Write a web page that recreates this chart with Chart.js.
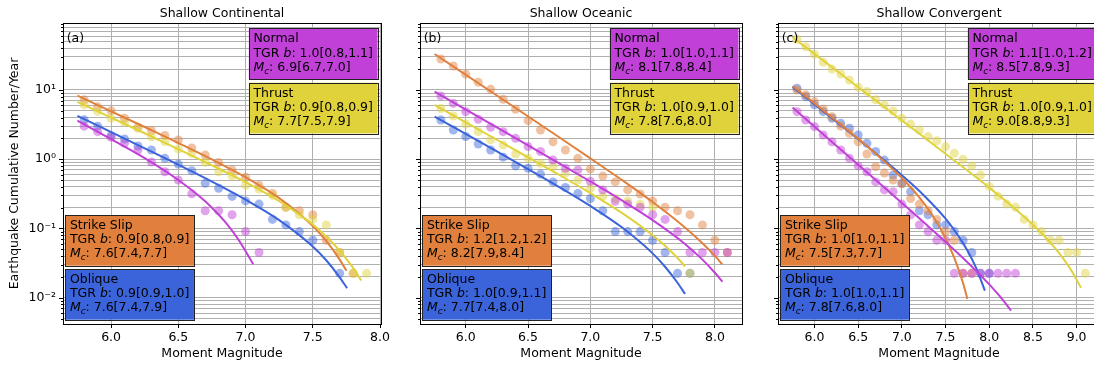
<!DOCTYPE html>
<html>
<head>
<meta charset="utf-8">
<script src="https://cdn.jsdelivr.net/npm/chart.js@4.4.0/dist/chart.umd.min.js"></script>
<style>
  html, body { margin: 0; padding: 0; background: #fff; overflow: hidden; }
  body { width: 1094px; height: 365px; position: relative; }
  canvas { position: absolute; top: 0; }
</style>
</head>
<body>
<canvas id="panelA"></canvas>
<canvas id="panelB"></canvas>
<canvas id="panelC"></canvas>
<script>
// magnitude bins of the observed cumulative rates (each series starts at 5.8)
const magBins = [5.8, 5.9, 6.0, 6.1, 6.2, 6.3, 6.4, 6.5, 6.6, 6.7, 6.8, 6.9, 7.0, 7.1, 7.2, 7.3, 7.4,
                 7.5, 7.6, 7.7, 7.8, 7.9, 8.0, 8.1, 8.2, 8.3, 8.4, 8.5, 8.6, 8.7, 8.8, 8.9, 9.0, 9.1];

const typeNames = ['Normal', 'Thrust', 'Strike Slip', 'Oblique'];
const typeColors = ['#c040d8', '#e0d23a', '#e0803c', '#3b64db'];
const dotColors = ['rgba(192,64,216,0.48)', 'rgba(224,210,58,0.48)', 'rgba(224,128,60,0.48)', 'rgba(59,100,219,0.48)'];

// (a) Shallow Continental
const contNormalObs = [3.0, 2.5, 2.07, 1.7, 1.36, 0.91, 0.66, 0.50, 0.316, 0.18, 0.18, 0.158, 0.09, 0.045];
const contThrustObs = [6.1, 4.9, 3.9, 3.4, 2.8, 2.1, 1.8, 1.4, 1.22, 0.90, 0.66, 0.57, 0.42, 0.37, 0.30, 0.2025, 0.158, 0.135, 0.1125, 0.045, 0.0225, 0.0225];
const contStrikeObs = [7.2, 5.7, 5.0, 3.9, 2.9, 2.6, 2.2, 1.9, 1.45, 1.15, 0.9, 0.7, 0.55, 0.42, 0.32, 0.2025, 0.18, 0.158, 0.0675, 0.045, 0.0225];
const contObliqueObs = [3.7, 3.0, 2.19, 1.96, 1.55, 1.36, 1.03, 0.85, 0.68, 0.45, 0.38, 0.29, 0.25, 0.225, 0.135, 0.1125, 0.09, 0.0675, null, 0.0225];

const contNormalFitM = [5.75, 6.0, 6.25, 6.5, 6.65, 6.75, 6.85, 6.95, 7.057];
const contNormalFit = [3.61, 1.95, 1.035, 0.501, 0.2985, 0.1995, 0.123, 0.0676, 0.0305];
const contThrustFitM = [5.75, 6.25, 6.75, 7.0, 7.25, 7.5, 7.6, 7.7, 7.8, 7.86];
const contThrustFit = [6.71, 2.37, 0.817, 0.465, 0.248, 0.1138, 0.0767, 0.048, 0.0269, 0.0177];
const contStrikeFitM = [5.75, 6.25, 6.75, 7.0, 7.25, 7.5, 7.6, 7.7, 7.75];
const contStrikeFit = [8.28, 2.92, 0.991, 0.55, 0.274, 0.1086, 0.0659, 0.0355, 0.0245];
const contObliqueFitM = [5.75, 6.25, 6.75, 7.0, 7.25, 7.5, 7.6, 7.7, 7.755];
const contObliqueFit = [4.22, 1.435, 0.474, 0.2606, 0.132, 0.0548, 0.0347, 0.0197, 0.01368];

const contB = ['1.0[0.8,1.1]', '0.9[0.8,0.9]', '0.9[0.8,0.9]', '0.9[0.9,1.0]'];
const contMc = ['6.9[6.7,7.0]', '7.7[7.5,7.9]', '7.6[7.4,7.7]', '7.6[7.4,7.9]'];

// (b) Shallow Oceanic
const oceNormalObs = [8.2, 6.4, 4.86, 3.78, 2.89, 2.5, 2.0, 1.52, 1.29, 0.975, 0.74, 0.70, 0.48, 0.36, 0.2475, 0.225, 0.2025, 0.158, 0.135, 0.09, 0.045, 0.045, 0.045, 0.045];
const oceThrustObs = [5.4, 4.2, 3.23, 2.5, 1.9, 1.6, 1.19, 1.03, 0.87, 0.78, 0.63, 0.50, 0.38, 0.29, 0.27, 0.25, 0.225, 0.2025, null, null, 0.0225];
const oceStrikeObs = [28, 22.2, 16.9, 12.9, 10.2, 7.35, 5.26, 3.6, 2.64, 1.79, 1.36, 1.03, 0.72, 0.57, 0.47, 0.36, 0.315, 0.25, 0.2025, 0.18, 0.158, 0.1125, 0.0675, 0.045];
const oceObliqueObs = [3.69, 2.64, 2.12, 1.66, 1.36, 1.07, 0.80, 0.74, 0.61, 0.47, 0.39, 0.32, 0.27, 0.18, 0.09, 0.09, 0.09, 0.0675, 0.045, 0.0225, 0.0225];

const oceNormalFitM = [5.75, 6.25, 6.75, 7.0, 7.25, 7.5, 7.75, 7.9, 8.0, 8.06];
const oceNormalFit = [9.44, 2.884, 0.873, 0.4764, 0.256, 0.1318, 0.0617, 0.0355, 0.0229, 0.017];
const oceThrustFitM = [5.75, 6.25, 6.75, 7.0, 7.25, 7.5, 7.6, 7.7, 7.76];
const oceThrustFit = [6.07, 1.91, 0.593, 0.3236, 0.169, 0.08, 0.0562, 0.0375, 0.0284];
const oceStrikeFitM = [5.75, 6.25, 6.75, 7.0, 7.25, 7.5, 7.75, 7.9, 8.0, 8.06];
const oceStrikeFit = [33.1, 8.32, 2.075, 1.03, 0.506, 0.2404, 0.1067, 0.0611, 0.0401, 0.0302];
const oceObliqueFitM = [5.75, 6.25, 6.75, 7.0, 7.25, 7.5, 7.6, 7.7, 7.76];
const oceObliqueFit = [4.12, 1.294, 0.396, 0.2113, 0.1047, 0.0437, 0.028, 0.01644, 0.01132];

const oceB = ['1.0[1.0,1.1]', '1.0[0.9,1.0]', '1.2[1.2,1.2]', '1.0[0.9,1.1]'];
const oceMc = ['8.1[7.8,8.4]', '7.8[7.6,8.0]', '8.2[7.9,8.4]', '7.7[7.4,8.0]'];

// (c) Shallow Convergent
const convNormalObs = [4.86, 3.69, 2.95, 2.24, 1.79, 1.36, 1.03, 0.80, 0.66, 0.47, 0.36, 0.34, 0.225, 0.157, 0.1125, 0.09, 0.0675, 0.0675,
                       0.0225, 0.0225, 0.0225, 0.0225, 0.0225, 0.0225, 0.0225, 0.0225];
const convThrustObs = [54, 42, 32.7, 25.1, 20.1, 17, 13.9, 10.9, 9.5, 7.2, 6.1, 4.97, 3.9, 3.2, 2.64, 2.12, 1.85, 1.52, 1.22, 1.0, 0.80, 0.59,
                       0.405, 0.2925, 0.225, 0.2025, 0.135, 0.1125, 0.09, 0.0675, 0.0675, 0.045, 0.045, 0.0225];
const convStrikeObs = [10.0, 8.5, 6.8, 5.26, 4.1, 3.0, 2.37, 1.79, 1.19, 0.78, 0.63, 0.50, 0.44, 0.27, 0.225, 0.18, 0.135, 0.09, 0.0675, 0.0225, 0.0225];
const convObliqueObs = [10.6, 8.0, 6.1, 4.86, 3.9, 3.3, 2.8, 2.24, 1.7, 1.29, 0.97, 0.59, 0.45, 0.34, 0.18, 0.1575, 0.1125, 0.1125, 0.09, 0.0675, 0.045, 0.0225, 0.0225];

const convNormalFitM = [5.75, 6.25, 6.75, 7.25, 7.75, 8.0, 8.125, 8.25];
const convNormalFit = [5.56, 1.567, 0.4406, 0.1227, 0.0325, 0.0156, 0.01033, 0.00649];
const convThrustFitM = [5.75, 6.25, 6.75, 7.25, 7.75, 8.0, 8.25, 8.5, 8.7, 8.85, 8.95, 9.05];
const convThrustFit = [57.7, 19.1, 6.31, 2.09, 0.6855, 0.388, 0.2153, 0.1132, 0.0624, 0.0363, 0.0235, 0.01393];
const convStrikeFitM = [5.75, 6.25, 6.75, 7.0, 7.2, 7.35, 7.5, 7.6, 7.7, 7.75];
const convStrikeFit = [11.43, 3.565, 1.057, 0.535, 0.281, 0.155, 0.0723, 0.0375, 0.0163, 0.00955];
const convObliqueFitM = [5.75, 6.25, 6.75, 7.0, 7.25, 7.5, 7.65, 7.75, 7.85, 7.95];
const convObliqueFit = [11.09, 3.49, 1.081, 0.586, 0.302, 0.1384, 0.0769, 0.0479, 0.0269, 0.01265];

const convB = ['1.1[1.0,1.2]', '1.0[0.9,1.0]', '1.0[1.0,1.1]', '1.0[1.0,1.1]'];
const convMc = ['8.5[7.8,9.3]', '9.0[8.8,9.3]', '7.5[7.3,7.7]', '7.8[7.6,8.0]'];

// axes
const yMin = 0.00417, yMax = 92.7;
const yTickVals = [];
for (let e = -3; e <= 1; e++) {
  for (let k = 1; k <= 9; k++) {
    const v = parseFloat((k * Math.pow(10, e)).toPrecision(3));
    if (v >= yMin && v <= yMax) yTickVals.push(v);
  }
}
const supLabels = { '1': '10\u00b9', '0': '10\u2070', '-1': '10\u207b\u00b9', '-2': '10\u207b\u00b2' };

const FONT = '"DejaVu Sans", "Liberation Sans", sans-serif';
const gridColor = '#b0b0b0';

function isDecade(v) {
  const e = Math.round(Math.log10(v));
  return Math.abs(v - Math.pow(10, e)) / v < 1e-6;
}

function obsPoints(vals) {
  const out = [];
  vals.forEach((v, i) => { if (v != null) out.push({ x: magBins[i], y: v }); });
  return out;
}

function fitPoints(ms, vs) {
  return ms.map((m, i) => ({ x: m, y: vs[i] }));
}

function boxLines(k, bTxt, mcTxt) {
  return [
    [{ t: typeNames[k] }],
    [{ t: 'TGR ' }, { t: 'b', it: true }, { t: ': ' + bTxt[k] }],
    [{ t: 'M', it: true }, { t: 'c', it: true, sub: true }, { t: ': ' + mcTxt[k] }]
  ];
}

function runFont(r) {
  return (r.it ? 'italic ' : '') + (r.sub ? '8.8px ' : '12.5px ') + FONT;
}

function lineWidth(ctx, runs) {
  let w = 0;
  runs.forEach(r => { ctx.font = runFont(r); w += ctx.measureText(r.t).width; });
  return w;
}

function drawBox(ctx, x, top, k, bTxt, mcTxt, alignRight) {
  const lines = boxLines(k, bTxt, mcTxt);
  const w = Math.max(...lines.map(l => lineWidth(ctx, l))) + 9.2;
  const h = 50.7;
  const left = alignRight ? x - w : x;
  ctx.fillStyle = typeColors[k];
  ctx.fillRect(left, top, w, h);
  ctx.strokeStyle = '#222';
  ctx.lineWidth = 1;
  ctx.strokeRect(Math.round(left) + 0.5, Math.round(top) + 0.5, Math.round(w), Math.round(h));
  ctx.fillStyle = '#000';
  ctx.textAlign = 'left';
  ctx.textBaseline = 'alphabetic';
  lines.forEach((runs, i) => {
    let cx = left + 4.6;
    const base = top + 14 + i * 14.2;
    runs.forEach(r => {
      ctx.font = runFont(r);
      ctx.fillText(r.t, cx, r.sub ? base + 2.8 : base);
      cx += ctx.measureText(r.t).width;
    });
  });
}

const decorPlugin = {
  id: 'decor',
  afterDraw(chart, args, opts) {
    const { ctx, chartArea: a } = chart;
    const ys = chart.scales.y;
    ctx.save();
    ctx.strokeStyle = '#000';
    ctx.lineWidth = 1;
    // y tick marks, longer on decades
    ys.ticks.forEach(t => {
      const y = Math.round(ys.getPixelForValue(t.value)) + 0.5;
      const len = isDecade(t.value) ? 4 : 2;
      ctx.beginPath();
      ctx.moveTo(a.left - len, y);
      ctx.lineTo(a.left, y);
      ctx.stroke();
    });
    // frame
    ctx.strokeRect(Math.round(a.left) + 0.5, Math.round(a.top) + 0.5, Math.round(a.right - a.left), Math.round(a.bottom - a.top));
    // title and panel tag
    ctx.fillStyle = '#000';
    ctx.font = '12.5px ' + FONT;
    ctx.textAlign = 'center';
    ctx.textBaseline = 'alphabetic';
    ctx.fillText(opts.title, (a.left + a.right) / 2, 16.7);
    ctx.textAlign = 'left';
    ctx.fillText(opts.tag, a.left + 3.7, 41.8);
    // parameter boxes: Normal/Thrust top right, Strike Slip/Oblique bottom left
    drawBox(ctx, a.right - 3.5, a.top + 5.3, 0, opts.bTxt, opts.mcTxt, true);
    drawBox(ctx, a.right - 3.5, a.top + 59.7, 1, opts.bTxt, opts.mcTxt, true);
    drawBox(ctx, a.left + 2.3, a.bottom - 109, 2, opts.bTxt, opts.mcTxt, false);
    drawBox(ctx, a.left + 2.3, a.bottom - 55, 3, opts.bTxt, opts.mcTxt, false);
    ctx.restore();
  }
};

function buildPanel(p) {
  const canvas = document.getElementById(p.id);
  canvas.width = p.width;
  canvas.height = 365;
  canvas.style.left = p.left + 'px';
  canvas.style.width = p.width + 'px';
  canvas.style.height = '365px';

  const datasets = [];
  p.series.forEach((s, k) => {
    datasets.push({
      type: 'scatter',
      data: obsPoints(s.obs),
      backgroundColor: dotColors[k],
      borderWidth: 0,
      pointRadius: 4.5,
      pointHoverRadius: 4.5,
      order: 2
    });
    datasets.push({
      type: 'line',
      data: fitPoints(s.fitM, s.fit),
      borderColor: typeColors[k],
      borderWidth: 2,
      pointRadius: 0,
      fill: false,
      cubicInterpolationMode: 'monotone',
      order: 1
    });
  });

  new Chart(canvas, {
    type: 'scatter',
    data: { datasets },
    options: {
      responsive: false,
      animation: false,
      devicePixelRatio: 1,
      layout: { padding: { left: 0, right: p.rightPad, top: 23, bottom: 0 } },
      plugins: {
        legend: { display: false },
        tooltip: { enabled: false },
        title: { display: false },
        decor: { title: p.title, tag: p.tag, bTxt: p.bTxt, mcTxt: p.mcTxt }
      },
      scales: {
        x: {
          type: 'linear',
          min: p.xMin,
          max: p.xMax,
          afterBuildTicks: sc => { sc.ticks = p.xTicks.map(v => ({ value: v })); },
          afterFit: sc => { sc.height = 41; },
          grid: { color: gridColor, lineWidth: 1, tickColor: '#000', tickLength: 4, drawTicks: true },
          border: { display: true, color: '#000', width: 1 },
          ticks: { color: '#000', font: { family: FONT, size: 12.5 }, padding: 2, maxRotation: 0, autoSkip: false,
                   callback: v => Number(v).toFixed(1) },
          title: { display: true, text: 'Moment Magnitude', color: '#000', font: { family: FONT, size: 12.5 },
                   padding: { top: 0, bottom: 4 } }
        },
        y: {
          type: 'logarithmic',
          min: yMin,
          max: yMax,
          afterBuildTicks: sc => { sc.ticks = yTickVals.map(v => ({ value: v })); },
          afterFit: sc => { sc.width = p.axisW; },
          grid: { color: gridColor, lineWidth: 1, drawTicks: false },
          border: { display: true, color: '#000', width: 1 },
          ticks: {
            display: p.showY,
            autoSkip: false,
            padding: 7,
            color: '#000',
            font: { family: FONT, size: 12.5 },
            callback: v => isDecade(v) ? supLabels[String(Math.round(Math.log10(v)))] : ''
          },
          title: { display: p.showY, text: 'Earthquake Cumulative Number/Year', color: '#000',
                   font: { family: FONT, size: 12.5 }, padding: { top: 7, bottom: 0 } }
        }
      }
    },
    plugins: [decorPlugin]
  });
}

buildPanel({
  id: 'panelA', left: 0, width: 392, axisW: 63, rightPad: 7,
  xMin: 5.6425, xMax: 8.0075, xTicks: [6.0, 6.5, 7.0, 7.5, 8.0],
  title: 'Shallow Continental', tag: '(a)', showY: true, bTxt: contB, mcTxt: contMc,
  series: [
    { obs: contNormalObs, fitM: contNormalFitM, fit: contNormalFit },
    { obs: contThrustObs, fitM: contThrustFitM, fit: contThrustFit },
    { obs: contStrikeObs, fitM: contStrikeFitM, fit: contStrikeFit },
    { obs: contObliqueObs, fitM: contObliqueFitM, fit: contObliqueFit }
  ]
});

buildPanel({
  id: 'panelB', left: 392, width: 357, axisW: 28, rightPad: 7,
  xMin: 5.6325, xMax: 8.2175, xTicks: [6.0, 6.5, 7.0, 7.5, 8.0],
  title: 'Shallow Oceanic', tag: '(b)', showY: false, bTxt: oceB, mcTxt: oceMc,
  series: [
    { obs: oceNormalObs, fitM: oceNormalFitM, fit: oceNormalFit },
    { obs: oceThrustObs, fitM: oceThrustFitM, fit: oceThrustFit },
    { obs: oceStrikeObs, fitM: oceStrikeFitM, fit: oceStrikeFit },
    { obs: oceObliqueObs, fitM: oceObliqueFitM, fit: oceObliqueFit }
  ]
});

buildPanel({
  id: 'panelC', left: 749, width: 361, axisW: 29, rightPad: 10,
  xMin: 5.5825, xMax: 9.2675, xTicks: [6.0, 6.5, 7.0, 7.5, 8.0, 8.5, 9.0],
  title: 'Shallow Convergent', tag: '(c)', showY: false, bTxt: convB, mcTxt: convMc,
  series: [
    { obs: convNormalObs, fitM: convNormalFitM, fit: convNormalFit },
    { obs: convThrustObs, fitM: convThrustFitM, fit: convThrustFit },
    { obs: convStrikeObs, fitM: convStrikeFitM, fit: convStrikeFit },
    { obs: convObliqueObs, fitM: convObliqueFitM, fit: convObliqueFit }
  ]
});
</script>
</body>
</html>
